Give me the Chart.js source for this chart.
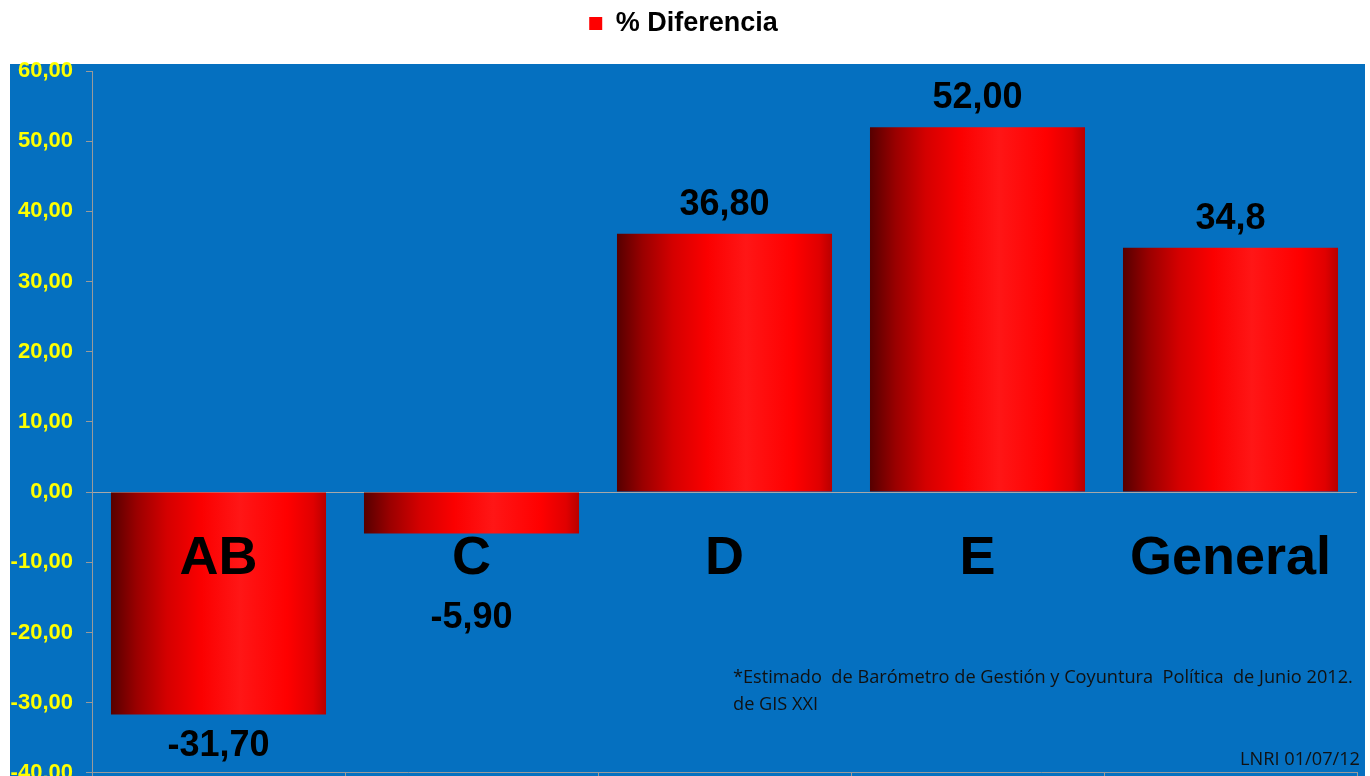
<!DOCTYPE html>
<html lang="es">
<head>
<meta charset="UTF-8">
<title>% Diferencia</title>
<script src="https://cdn.jsdelivr.net/npm/chart.js"></script>
<style>
    body { margin: 0; background: #fff; overflow: hidden; }
    .wrap { position: relative; width: 1370px; height: 799px; }
</style>
</head>
<body>
<div class="wrap"><canvas id="diffChart"></canvas></div>
<script>
// datos
const categorias = ['AB', 'C', 'D', 'E', 'General'];
const diferencias = [-31.7, -5.9, 36.8, 52.0, 34.8];
const etiquetas = ['-31,70', '-5,90', '36,80', '52,00', '34,8'];
const serie = '% Diferencia';
const yMin = -40, yMax = 60, yPaso = 10;
const nota1 = '*Estimado  de Barómetro de Gestión y Coyuntura  Política  de Junio 2012.';
const nota2 = 'de GIS XXI';
const firma = 'LNRI 01/07/12';

const FONT = "'Liberation Sans', Arial, sans-serif";
const BAR_PCT = 0.85;

// degradado horizontal de cada barra
function barGradient(ctx) {
    const chart = ctx.chart;
    const xs = chart.scales.x;
    if (!xs || ctx.dataIndex === undefined || !chart.chartArea) return '#ff0000';
    const w = xs.width / categorias.length * BAR_PCT;
    const cx = xs.getPixelForValue(ctx.dataIndex);
    const g = chart.ctx.createLinearGradient(cx - w / 2, 0, cx + w / 2, 0);
    g.addColorStop(0, '#560000');
    g.addColorStop(0.12, '#9a0000');
    g.addColorStop(0.26, '#d40000');
    g.addColorStop(0.42, '#fb0000');
    g.addColorStop(0.6, '#ff1616');
    g.addColorStop(0.82, '#ff0000');
    g.addColorStop(0.94, '#e00000');
    g.addColorStop(1, '#b80000');
    return g;
}

// espacio extra debajo de la leyenda
const espacioLeyenda = {
    id: 'espacioLeyenda',
    afterInit(chart) {
        const lg = chart.legend;
        if (!lg) return;
        const fitOrig = lg.fit;
        lg.fit = function () {
            fitOrig.call(this);
            this.height += 24;
        };
    }
};

// fondo azul del area del grafico
const fondo = {
    id: 'fondo',
    beforeDraw(chart) {
        const c = chart.ctx;
        c.save();
        c.fillStyle = '#0570c0';
        c.fillRect(10, 64, 1355, chart.height - 64);
        c.restore();
    }
};

// textos: categorias grandes, valores y notas
const textos = {
    id: 'textos',
    afterDatasetsDraw(chart) {
        const c = chart.ctx;
        const xs = chart.scales.x, ys = chart.scales.y;
        const meta = chart.getDatasetMeta(0);
        c.save();
        c.fillStyle = '#000';
        c.textAlign = 'center';
        c.textBaseline = 'middle';
        c.font = 'bold 54px ' + FONT;
        categorias.forEach((cat, i) => {
            c.fillText(cat, xs.getPixelForValue(i), ys.getPixelForValue(-9.6));
        });
        c.font = 'bold 36px ' + FONT;
        meta.data.forEach((bar, i) => {
            const y = diferencias[i] >= 0 ? bar.y - 29 : Math.max(bar.y, 586) + 32;
            c.fillText(etiquetas[i], bar.x, y);
        });
        // nota al pie
        c.fillStyle = '#111';
        c.textAlign = 'left';
        c.font = '15px "Open Sans", sans-serif';
        const k = 619 / c.measureText(nota1).width;
        c.font = (15 * k).toFixed(1) + 'px "Open Sans", sans-serif';
        c.fillText(nota1, 733, 678);
        c.fillText(nota2, 733, 705);
        c.textAlign = 'right';
        c.fillText(firma, 1360, 760);
        c.restore();
    }
};

new Chart(document.getElementById('diffChart'), {
    type: 'bar',
    data: {
        labels: categorias,
        datasets: [{
            label: serie,
            data: diferencias,
            backgroundColor: barGradient,
            barPercentage: BAR_PCT,
            categoryPercentage: 1
        }]
    },
    options: {
        responsive: true,
        maintainAspectRatio: false,
        animation: false,
        layout: { padding: { left: 10, right: 13, top: 2, bottom: 0 } },
        plugins: {
            legend: {
                display: true,
                position: 'top',
                labels: {
                    font: { family: FONT, size: 27, weight: 'bold' },
                    color: '#000',
                    boxWidth: 13,
                    boxHeight: 13,
                    padding: 8,
                    generateLabels: () => [{ text: serie, fillStyle: '#ff0000', strokeStyle: '#ff0000', lineWidth: 0, datasetIndex: 0 }]
                }
            },
            tooltip: { enabled: false }
        },
        scales: {
            x: {
                ticks: { display: false },
                grid: { offset: true, drawOnChartArea: false, tickLength: 6, tickColor: '#9a9a9a' },
                border: { color: '#9a9a9a' }
            },
            y: {
                min: yMin,
                max: yMax,
                afterFit(s) { s.width = 82; },
                ticks: {
                    stepSize: yPaso,
                    padding: 13,
                    color: '#ffff00',
                    font: { family: FONT, size: 22, weight: 'bold' },
                    callback: v => v.toFixed(2).replace('.', ',')
                },
                grid: {
                    color: c => (c.tick && c.tick.value === 0) ? '#a8a8a8' : 'rgba(0,0,0,0)',
                    tickColor: '#9a9a9a',
                    tickLength: 6
                },
                border: { color: '#9a9a9a' }
            }
        }
    },
    plugins: [espacioLeyenda, fondo, textos]
});
</script>
</body>
</html>
